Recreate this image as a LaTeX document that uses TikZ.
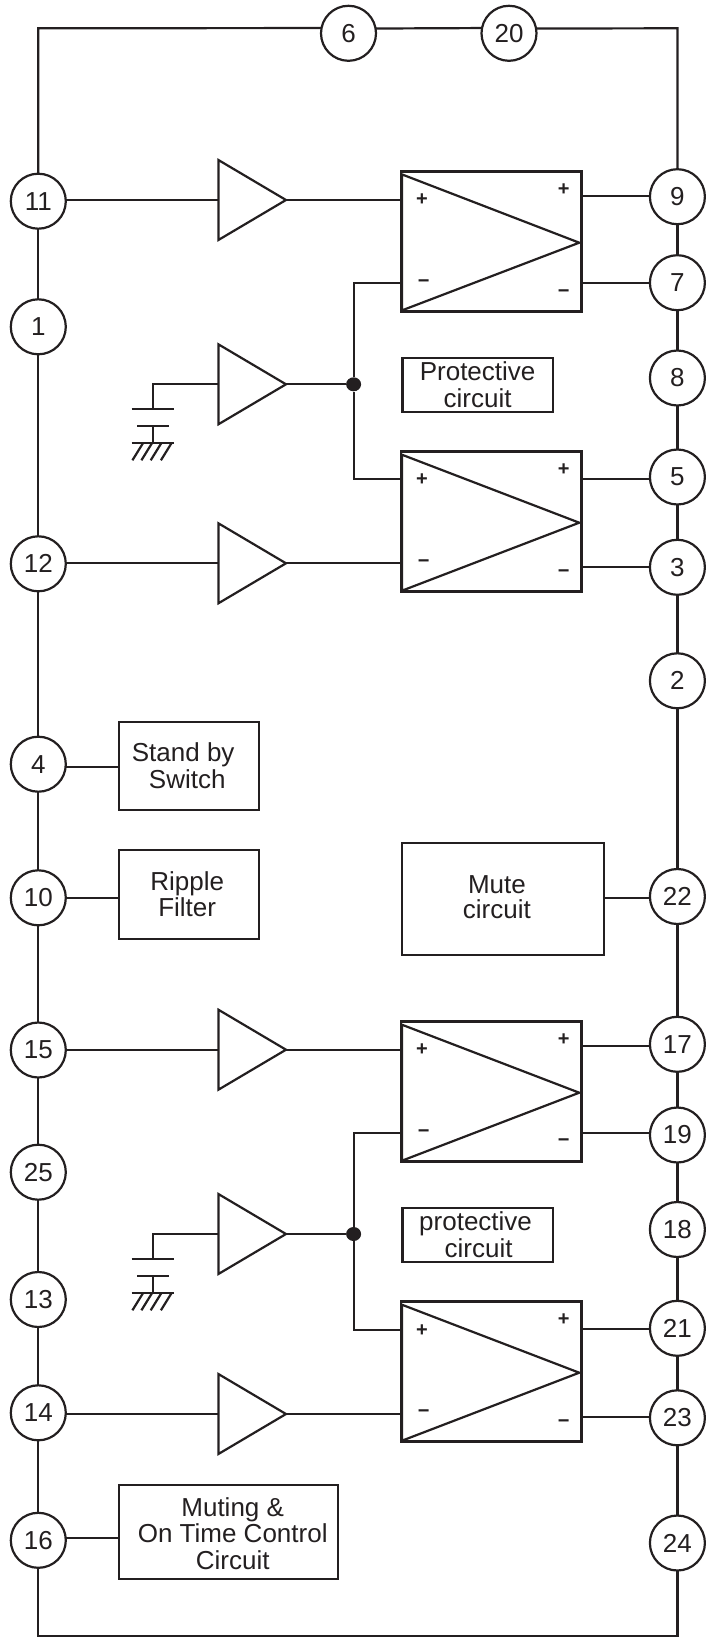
\documentclass[tikz,border=0pt]{standalone}
\usepackage{fontspec}
\setmainfont{Liberation Sans}
\usepackage{tikz}
\usetikzlibrary{shapes.geometric}
\definecolor{ink}{HTML}{231F20}
\tikzstyle{wire} = [draw=ink, line width=2.2pt]
\tikzstyle{pin} = [wire, circle, minimum size=55pt, inner sep=0pt,
                   outer sep=0pt, text=ink,
                   font=\fontsize{26}{26}\selectfont]
\tikzstyle{block} = [wire, rectangle, inner sep=0pt, outer sep=0pt,
                     text=ink, align=center,
                     font=\fontsize{26}{26.7}\selectfont]
\tikzstyle{amp} = [draw=ink, line width=2.5pt, rectangle, inner sep=0pt,
                   outer sep=0pt, minimum width=180.7pt, minimum height=140pt]
\tikzstyle{buffer} = [wire, isosceles triangle, isosceles triangle stretches,
                      shape border rotate=0, inner sep=0pt, outer sep=0pt,
                      minimum width=80pt, minimum height=67.6pt,
                      anchor=lower side]
\tikzstyle{sign} = [inner sep=0pt, text=ink,
                    font=\fontsize{20}{20}\selectfont\bfseries]
\tikzstyle{joint} = [ellipse, fill=ink, minimum width=15pt, minimum height=14pt,
                     inner sep=0pt]

\begin{document}
\begin{tikzpicture}[x=1pt, y=-1pt]
  \useasboundingbox (0,0) rectangle (705,1637);

  % pins, left column
  \node [pin] (pin11) at (38.3,201.2) {11};
  \node [pin] (pin1)  at (38.3,326.8) {1};
  \node [pin] (pin12) at (38.3,563.8) {12};
  \node [pin] (pin4)  at (38.3,764.2) {4};
  \node [pin] (pin10) at (38.3,897.8) {10};
  \node [pin] (pin15) at (38.3,1050) {15};
  \node [pin] (pin25) at (38.3,1172.2) {25};
  \node [pin] (pin13) at (38.3,1299.5) {13};
  \node [pin] (pin14) at (38.3,1412.8) {14};
  \node [pin] (pin16) at (38.3,1540.3) {16};

  % pins, top
  \node [pin] (pin6)  at (348.5,33.3) {6};
  \node [pin] (pin20) at (509,33.3) {20};

  % pins, right column
  \node [pin] (pin9)  at (677.4,196.7) {9};
  \node [pin] (pin7)  at (677.4,282.7) {7};
  \node [pin] (pin8)  at (677.4,378) {8};
  \node [pin] (pin5)  at (677.4,477) {5};
  \node [pin] (pin3)  at (677.4,567.3) {3};
  \node [pin] (pin2)  at (677.4,680.8) {2};
  \node [pin] (pin22) at (677.4,896.5) {22};
  \node [pin] (pin17) at (677.4,1044.3) {17};
  \node [pin] (pin19) at (677.4,1135) {19};
  \node [pin] (pin18) at (677.4,1229.5) {18};
  \node [pin] (pin21) at (677.4,1328.3) {21};
  \node [pin] (pin23) at (677.4,1417.8) {23};
  \node [pin] (pin24) at (677.4,1543) {24};

  % outer rail
  \coordinate (railnw) at (38.3,28.3);
  \coordinate (railne) at (677.4,28.3);
  \coordinate (railsw) at (38.3,1636);
  \coordinate (railse) at (677.4,1636);
  \draw [wire, line join=miter] (pin11) -- (railnw) -- (pin6.169.5);
  \draw [wire] (pin6.10.5) -- (pin20.169.5);
  \draw [wire, line join=miter] (pin20.10.5) -- (railne) -- (pin9);
  \draw [wire] (pin11) -- (pin1);
  \draw [wire] (pin1) -- (pin12);
  \draw [wire] (pin12) -- (pin4);
  \draw [wire] (pin4) -- (pin10);
  \draw [wire] (pin10) -- (pin15);
  \draw [wire] (pin15) -- (pin25);
  \draw [wire] (pin25) -- (pin13);
  \draw [wire] (pin13) -- (pin14);
  \draw [wire] (pin14) -- (pin16);
  \draw [wire, line join=miter] (pin16) -- (railsw) -- (railse) -- (pin24);
  \draw [wire] (pin9) -- (pin7);
  \draw [wire] (pin7) -- (pin8);
  \draw [wire] (pin8) -- (pin5);
  \draw [wire] (pin5) -- (pin3);
  \draw [wire] (pin3) -- (pin2);
  \draw [wire] (pin2) -- (pin22);
  \draw [wire] (pin22) -- (pin17);
  \draw [wire] (pin17) -- (pin19);
  \draw [wire] (pin19) -- (pin18);
  \draw [wire] (pin18) -- (pin21);
  \draw [wire] (pin21) -- (pin23);
  \draw [wire] (pin23) -- (pin24);

  % plain blocks
  \node [block, minimum width=140.3pt, minimum height=88.6pt] (standby) at (189.2,766)
    {Stand by\hspace*{12pt}\\Switch\hspace*{4pt}};
  \node [block, minimum width=140.3pt, minimum height=88.7pt] (ripple) at (189.2,894.3)
    {Ripple\hspace*{4pt}\\Filter\hspace*{4pt}};
  \node [block, minimum width=201.7pt, minimum height=112.6pt] (mute) at (502.9,899)
    {Mute\hspace*{12pt}\\[-1.4pt]circuit\hspace*{12pt}\rule[-3.4pt]{0pt}{0pt}};
  \node [block, minimum width=219pt, minimum height=94.3pt] (muting) at (228.8,1532.1)
    {\rule{0pt}{21.6pt}\hspace*{7.8pt}Muting \&\\\hspace*{7.8pt}On Time Control\\\hspace*{7.8pt}Circuit};
  \node [block, minimum width=150.4pt, minimum height=54.3pt] (protecta) at (477.6,384.85)
    {Protective\\circuit};
  \node [block, minimum width=150.4pt, minimum height=54.3pt] (protectb) at (477.6,1234.85)
    {protective\hspace*{4pt}\\\hspace*{2pt}circuit};
  \draw [wire] (pin4.east |- 0,766.7) -- (standby.west |- 0,766.7);
  \draw [wire] (pin10) -- (ripple.west |- pin10);
  \draw [wire] (mute.east |- 0,897.7) -- (pin22.west |- 0,897.7);
  \draw [wire] (pin16.east |- 0,1538.3) -- (muting.west |- 0,1538.3);

  % upper amplifiers
  \node [amp] (ampa) at (491.3,241.4) {};
  \node [amp] (ampb) at (491.3,521.7) {};
  \draw [wire, line join=miter] ([xshift=1pt, yshift=-3pt]ampa.north west)
    -- ([xshift=-2.4pt, yshift=-1.3pt]ampa.east)
    -- ([xshift=1pt, yshift=1pt]ampa.south west) -- cycle;
  \draw [wire, line join=miter] ([xshift=1pt, yshift=-3pt]ampb.north west)
    -- ([xshift=-2.4pt, yshift=-1pt]ampb.east)
    -- ([xshift=1pt, yshift=1pt]ampb.south west) -- cycle;
  \node [sign] (ampaip) at (422,200) {+};
  \node [sign] (ampaim) at (423.7,283.3) {−};
  \node [sign] (ampaop) at (563.7,189.3) {+};
  \node [sign] (ampaom) at (563.7,293.3) {−};
  \node [sign] (ampbip) at (422,480) {+};
  \node [sign] (ampbim) at (423.7,564) {−};
  \node [sign] (ampbop) at (563.7,470) {+};
  \node [sign] (ampbom) at (563.7,573.3) {−};

  \node [buffer] (bufa) at (218.4,200) {};
  \node [buffer] (bufb) at (218.4,384.3) {};
  \node [buffer] (bufc) at (218.4,563.3) {};
  \node [joint] (jointa) at (353.6,384.3) {};
  \coordinate (ampain) at (ampa.west |- 0,283.3);
  \coordinate (ampbin) at (ampb.west |- 0,479.3);
  \draw [wire] (pin11.east |- bufa.lower side) -- (bufa.lower side);
  \draw [wire] (bufa.apex) -- (ampa.west |- bufa.apex);
  \draw [wire] (bufb.apex) -- (jointa);
  \draw [wire, line join=miter] (ampain) -| (jointa);
  \draw [wire, line join=miter] (ampbin) -| (jointa);
  \draw [wire] (pin12.east |- bufc.lower side) -- (bufc.lower side);
  \draw [wire] (bufc.apex) -- (ampb.west |- bufc.apex);
  \draw [wire] (ampa.east |- 0,195.7) -- (pin9.west |- 0,195.7);
  \draw [wire] (ampa.east |- 0,283.3) -- (pin7.west |- 0,283.3);
  \draw [wire] (ampb.east |- 0,478.7) -- (pin5.west |- 0,478.7);
  \draw [wire] (ampb.east |- 0,567.3) -- (pin3.west |- 0,567.3);

  % upper capacitor and ground
  \coordinate (capa) at (153,409.3);
  \coordinate (capb) at (153,425.7);
  \coordinate (gnda) at (153,443.3);
  \draw [wire, line join=miter] (bufb.lower side) -| (capa);
  \draw [wire] ([xshift=-21.4pt]capa) -- ([xshift=21.4pt]capa);
  \draw [wire] ([xshift=-15.7pt]capb) -- ([xshift=15.7pt]capb);
  \draw [wire] (capb) -- (gnda);
  \draw [wire] ([xshift=-21.4pt]gnda) -- ([xshift=21.4pt]gnda);
  \draw [wire] ([xshift=-10.1pt]gnda) -- ++(-10.5,17);
  \draw [wire] ([xshift=-1.1pt]gnda) -- ++(-10.5,17);
  \draw [wire] ([xshift=8.2pt]gnda) -- ++(-10.5,17);
  \draw [wire] ([xshift=18.4pt]gnda) -- ++(-10.5,17);

  % lower amplifiers
  \node [amp] (ampc) at (491.3,1091.7) {};
  \node [amp] (ampd) at (491.3,1371.7) {};
  \draw [wire, line join=miter] ([xshift=1pt, yshift=-3pt]ampc.north west)
    -- ([xshift=-2.4pt, yshift=-1pt]ampc.east)
    -- ([xshift=1pt, yshift=1pt]ampc.south west) -- cycle;
  \draw [wire, line join=miter] ([xshift=1pt, yshift=-3pt]ampd.north west)
    -- ([xshift=-2.4pt, yshift=-1pt]ampd.east)
    -- ([xshift=1pt, yshift=1pt]ampd.south west) -- cycle;
  \node [sign] (ampcip) at (422,1050) {+};
  \node [sign] (ampcim) at (423.7,1133.3) {−};
  \node [sign] (ampcop) at (563.7,1039.3) {+};
  \node [sign] (ampcom) at (563.7,1143) {−};
  \node [sign] (ampdip) at (422,1330.7) {+};
  \node [sign] (ampdim) at (423.7,1414) {−};
  \node [sign] (ampdop) at (563.7,1320) {+};
  \node [sign] (ampdom) at (563.7,1423.3) {−};

  \node [buffer] (bufd) at (218.4,1049.7) {};
  \node [buffer] (bufe) at (218.4,1234) {};
  \node [buffer] (buff) at (218.4,1414) {};
  \node [joint] (jointb) at (353.6,1234) {};
  \coordinate (ampcin) at (ampc.west |- 0,1133.3);
  \coordinate (ampdin) at (ampd.west |- 0,1329.7);
  \draw [wire] (pin15.east |- bufd.lower side) -- (bufd.lower side);
  \draw [wire] (bufd.apex) -- (ampc.west |- bufd.apex);
  \draw [wire] (bufe.apex) -- (jointb);
  \draw [wire, line join=miter] (ampcin) -| (jointb);
  \draw [wire, line join=miter] (ampdin) -| (jointb);
  \draw [wire] (pin14.east |- buff.lower side) -- (buff.lower side);
  \draw [wire] (buff.apex) -- (ampd.west |- buff.apex);
  \draw [wire] (ampc.east |- 0,1045.7) -- (pin17.west |- 0,1045.7);
  \draw [wire] (ampc.east |- 0,1133.3) -- (pin19.west |- 0,1133.3);
  \draw [wire] (ampd.east |- 0,1328.7) -- (pin21.west |- 0,1328.7);
  \draw [wire] (ampd.east |- 0,1417.3) -- (pin23.west |- 0,1417.3);

  % lower capacitor and ground
  \coordinate (capc) at (153,1259.3);
  \coordinate (capd) at (153,1275.7);
  \coordinate (gndb) at (153,1293.3);
  \draw [wire, line join=miter] (bufe.lower side) -| (capc);
  \draw [wire] ([xshift=-21.4pt]capc) -- ([xshift=21.4pt]capc);
  \draw [wire] ([xshift=-15.7pt]capd) -- ([xshift=15.7pt]capd);
  \draw [wire] (capd) -- (gndb);
  \draw [wire] ([xshift=-21.4pt]gndb) -- ([xshift=21.4pt]gndb);
  \draw [wire] ([xshift=-10.1pt]gndb) -- ++(-10.5,17);
  \draw [wire] ([xshift=-1.1pt]gndb) -- ++(-10.5,17);
  \draw [wire] ([xshift=8.2pt]gndb) -- ++(-10.5,17);
  \draw [wire] ([xshift=18.4pt]gndb) -- ++(-10.5,17);
\end{tikzpicture}
\end{document}
